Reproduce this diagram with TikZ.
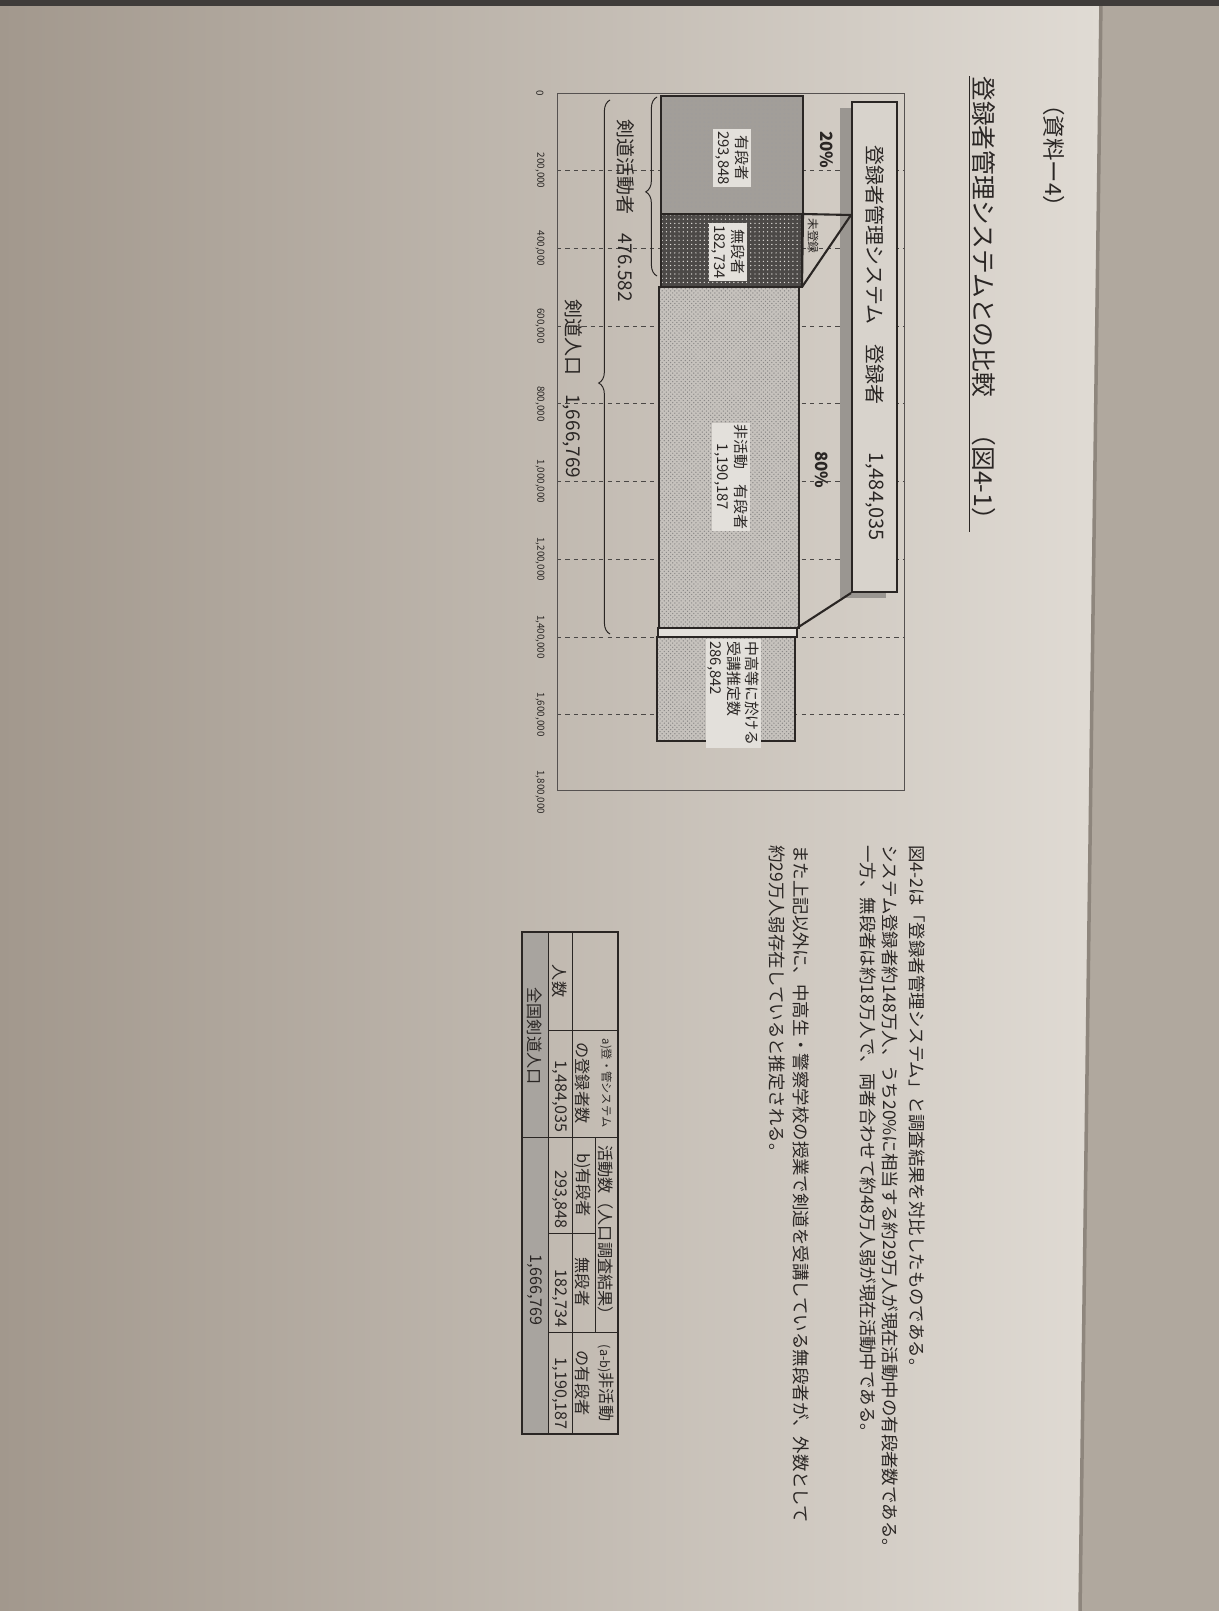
\documentclass[tikz,border=0pt]{standalone}
\usepackage{fontspec}
\setmainfont{Noto Sans CJK JP}
\usetikzlibrary{patterns,decorations.pathreplacing}
\definecolor{ink}{HTML}{2A2624}
\definecolor{desk}{HTML}{B0A89E}
\definecolor{pageedge}{HTML}{8E867D}
\definecolor{paperL}{HTML}{A2988D}
\definecolor{paperM}{HTML}{C8C1B8}
\definecolor{paperR}{HTML}{E0DBD4}
\definecolor{regfill}{HTML}{D8D3CC}
\definecolor{lblwhite}{HTML}{E3E0DB}
\definecolor{yudan}{HTML}{A29E99}
\definecolor{mudan}{HTML}{4C4947}
\definecolor{hikatsu}{HTML}{C6C2BD}
\definecolor{shadowgray}{HTML}{9A9691}
\definecolor{rowgray}{HTML}{A8A49F}
\begin{document}
\begin{tikzpicture}[x=0.25mm, y=-0.25mm,
    jp/.style={rotate=-90, inner sep=0pt, text=ink},
    body/.style={jp, anchor=west, font=\fontsize{12.4}{15}\selectfont},
    axlbl/.style={jp, font=\fontsize{7}{8}\selectfont},
    barlbl/.style={jp, fill=lblwhite, inner sep=1.5pt, align=center,
      font=\fontsize{10.6}{12.6}\selectfont},
    cell/.style={jp, font=\fontsize{11.5}{13}\selectfont},
    gridline/.style={dashed, ink!85, line width=0.5pt},
    barline/.style={draw=ink, line width=0.9pt},
    link/.style={ink, line width=1.5pt},
    bracestyle/.style={decorate, decoration={brace, amplitude=8pt, aspect=0.47},
      ink, line width=0.7pt}]
  \useasboundingbox (0,0) rectangle (1219,1611);
  % photo of the page
  \fill[desk] (0,0) rectangle (1219,1611);
  \shade[left color=paperL, middle color=paperM, right color=paperR] %
  (0,0) -- (1101,0) -- (1080,1611) -- (0,1611) -- cycle;
  \draw[pageedge, line width=2.5pt] (1101,0) -- (1080,1611);
  \fill[ink!90] (0,0) rectangle (1219,6);
  % title
  \node[jp, anchor=west, font=\fontsize{16}{18}\selectfont] (shiryo) at (1054,93) {（資料ー4）};
  \node[jp, anchor=west, font=\fontsize{17.6}{20}\selectfont] (title) at (984,76)
    {登録者管理システムとの比較　（図4-1）};
  \draw[ink, line width=0.8pt] ([xshift=-1.5pt]title.south west) -- ([xshift=-1.5pt]title.south east);
  % chart frame, grid, axis
  \foreach \k in {1,...,8}
    \draw[gridline] (557,{93+77.7*\k}) -- (904,{93+77.7*\k});
  \draw[ink!80, line width=0.6pt] (557,93) rectangle (904,790);
  \foreach [count=\k from 0] \t in {{0},{200,000},{400,000},{600,000},{800,000},%
      {1,000,000},{1,200,000},{1,400,000},{1,600,000},{1,800,000}}
    \node[axlbl] (ax\k) at (540,{93+77.7*\k}) {\t};
  % registered box
  \fill[shadowgray] (840,108) rectangle (886,598);
  \filldraw[fill=regfill, draw=ink, line width=0.8pt] (852,102) rectangle (897,592);
  \node[jp, anchor=west, font=\fontsize{14.2}{16}\selectfont] (regtxt) at (875,145)
    {登録者管理システム　登録者};
  \node[jp, anchor=west, font=\fontsize{14.2}{16}\selectfont] (regnum) at (875,452) {1,484,035};
  % bars
  \fill[yudan, postaction={pattern=dots, pattern color=ink!45}] (661,96) rectangle (803,214);
  \fill[mudan, postaction={pattern=dots, pattern color=lblwhite}] (661,214) rectangle (802,287);
  \fill[hikatsu, postaction={pattern=crosshatch dots, pattern color=ink!55}] (659,287) rectangle (799,628);
  \fill[hikatsu, postaction={pattern=crosshatch dots, pattern color=ink!55}] (657,637) rectangle (795,741);
  \draw[barline] (661,96) rectangle (803,214);
  \draw[barline] (661,214) rectangle (802,287);
  \draw[barline] (659,287) rectangle (799,628);
  \filldraw[barline, fill=lblwhite] (658,628) rectangle (797,637);
  \draw[barline] (657,637) rectangle (795,741);
  % links to the registered box
  \coordinate (ya) at (803,214);
  \coordinate (yb) at (802,287);
  \coordinate (yc) at (797,628);
  \coordinate (ra) at (851,215);
  \coordinate (rc) at (851,593);
  \draw[link] (ya) -- (ra);
  \draw[link] (yb) -- (ra);
  \draw[link] (ya) -- (yb);
  \draw[link] (yc) -- (rc);
  \node[jp, font=\fontsize{12}{14}\selectfont\bfseries] (pct20) at (827,150) {20\%};
  \node[jp, font=\fontsize{12}{14}\selectfont\bfseries] (pct80) at (822,470) {80\%};
  \node[jp, font=\fontsize{8.3}{9}\selectfont] (mitouroku) at (813,236) {未登録};
  % bar labels
  \node[barlbl] (yudanlbl) at (732,158) {有段者\\293,848};
  \node[barlbl] (mudanlbl) at (728,252) {無段者\\182,734};
  \node[barlbl] (hikatsulbl) at (731,477) {非活動　有段者\\1,190,187};
  \node[barlbl, align=left, anchor=north west] (chukolbl) at (761,639)
    {中高等に於ける\\受講推定数\\286,842};
  % braces
  \coordinate (act0) at (657,97);
  \coordinate (act1) at (657,276);
  \draw[bracestyle] (act1) -- (act0);
  \node[jp, anchor=west, font=\fontsize{13.5}{15}\selectfont] (actlbl) at (626,119)
    {剣道活動者　476.582};
  \coordinate (pop0) at (610,100);
  \coordinate (pop1) at (610,634);
  \draw[bracestyle] (pop1) -- (pop0);
  \node[jp, anchor=west, font=\fontsize{13.5}{15}\selectfont] (poplbl) at (573,299)
    {剣道人口　1,666,769};
  % text
  \node[body] (p1) at (917,845) {図4-2は「登録者管理システム」と調査結果を対比したものである。};
  \node[body] (p2) at (890,845) {システム登録者約148万人、うち20\%に相当する約29万人が現在活動中の有段者数である。};
  \node[body] (p3) at (868,845) {一方、無段者は約18万人で、両者合わせて約48万人弱が現在活動中である。};
  \node[body] (p4) at (801,845) {また上記以外に、中高生・警察学校の授業で剣道を受講している無段者が、外数として};
  \node[body] (p5) at (777,845) {約29万人弱存在していると推定される。};
  % table
  \fill[rowgray] (522,932) rectangle (548,1434);
  \draw[ink, line width=0.6pt] (548,1030) -- (618,1030) (522,1137) -- (618,1137)
    (548,1233) -- (595,1233) (548,1332) -- (618,1332)
    (548,932) -- (548,1434) (572,932) -- (572,1434) (595,1137) -- (595,1332);
  \draw[ink, line width=1pt] (522,932) rectangle (618,1434);
  \node[cell, font=\fontsize{8}{9}\selectfont] (hda1) at (606,1083) {a)登・管システム};
  \node[cell] (hda2) at (583,1083) {の登録者数};
  \node[cell] (hdact) at (606,1234) {活動数（人口調査結果）};
  \node[cell] (hdb) at (583,1185) {b)有段者};
  \node[cell] (hdm) at (583,1282) {無段者};
  \node[cell] (hdc1) at (606,1383) {{\fontsize{9}{10}\selectfont(a-b)}非活動};
  \node[cell] (hdc2) at (583,1383) {の有段者};
  \node[cell] (rown) at (560,981) {人数};
  \node[cell, anchor=east] (va) at (560,1133) {1,484,035};
  \node[cell, anchor=east] (vb) at (560,1229) {293,848};
  \node[cell, anchor=east] (vm) at (560,1328) {182,734};
  \node[cell, anchor=east] (vc) at (560,1430) {1,190,187};
  \node[cell] (tot) at (535,1036) {全国剣道人口};
  \node[cell] (totv) at (535,1290) {1,666,769};
\end{tikzpicture}
\end{document}
